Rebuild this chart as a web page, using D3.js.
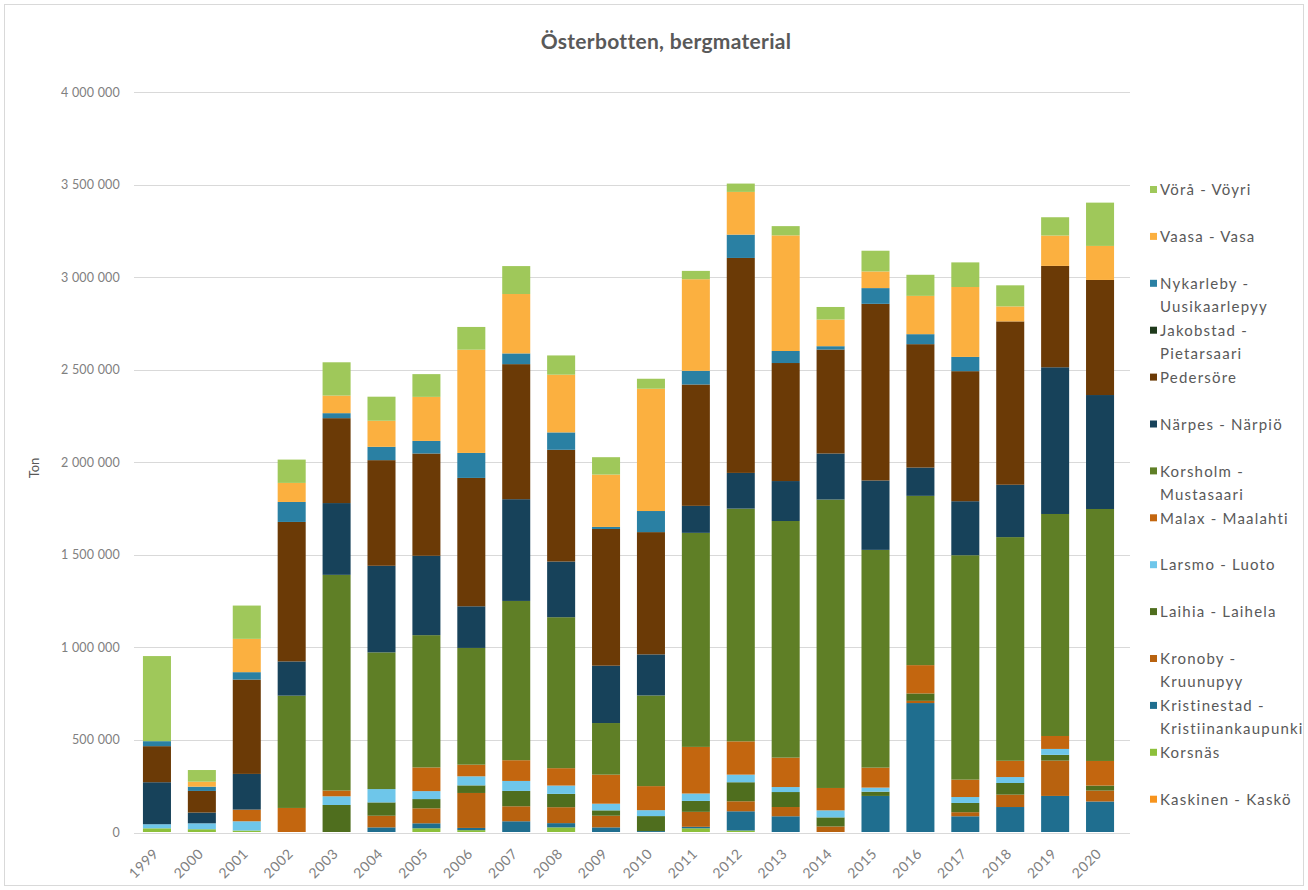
<!DOCTYPE html>
<html><head><meta charset="utf-8">
<script src="https://cdn.jsdelivr.net/npm/d3@7"></script>
<style>
html,body{margin:0;padding:0;background:#fff;}
svg{display:block;font-family:"Lato","Noto Sans",sans-serif;}
</style></head>
<body>
<svg id="chart" width="1308" height="890"></svg>
<script>
const years = ["1999","2000","2001","2002","2003","2004","2005","2006","2007","2008","2009","2010","2011","2012","2013","2014","2015","2016","2017","2018","2019","2020"];

// stack order bottom -> top
const seriesNames = ["Kaskinen - Kaskö","Korsnäs","Kristinestad - Kristiinankaupunki","Kronoby - Kruunupyy","Laihia - Laihela","Larsmo - Luoto","Malax - Maalahti","Korsholm - Mustasaari","Närpes - Närpiö","Pedersöre","Jakobstad - Pietarsaari","Nykarleby - Uusikaarlepyy","Vaasa - Vasa","Vörå - Vöyri"];
const seriesColors = ["#f7941d","#8dc03b","#1f6e8f","#b8620f","#4f6e1e","#6ec6ea","#c3660f","#5f7f26","#17425a","#6b3a06","#1f3a1c","#2a80a3","#fbb040","#9fc85a"];

const kaskinen    = [0,0,0,0,0,0,0,0,0,0,0,0,0,0,0,0,0,0,0,0,0,0];
const korsnas     = [20,15,8,0,0,0,20,10,0,25,0,0,20,8,0,0,0,0,0,0,0,0];
const kristinestad= [0,0,0,0,0,25,27,12,58,23,25,5,8,104,85,0,195,697,85,135,195,165];
const kronoby     = [0,0,0,0,0,63,81,189,81,86,63,0,81,54,50,30,0,12,22,67,191,59];
const laihia      = [0,0,0,0,146,72,50,41,83,72,29,81,59,103,81,49,23,40,50,63,31,27];
const larsmo      = [22,32,50,0,47,72,43,49,54,45,36,32,40,41,27,38,22,0,32,32,32,0];
const malax       = [0,0,63,130,31,0,128,63,112,94,157,130,252,180,159,121,108,153,94,88,70,133];
const korsholm    = [0,0,0,607,1166,739,715,631,861,816,279,490,1157,1258,1279,1559,1177,915,1213,1209,1200,1362];
const narpes      = [227,58,193,185,388,468,429,225,550,301,310,222,146,193,216,249,375,153,292,283,793,616];
const pedersore   = [195,117,510,754,459,571,553,694,730,604,739,661,656,1162,638,562,955,667,703,883,548,622];
const jakobstad   = [0,0,0,0,0,0,0,0,0,0,0,0,0,0,0,0,0,0,0,0,0,0];
const nykarleby   = [27,23,40,108,27,72,68,135,58,94,11,114,74,126,65,18,85,54,77,0,0,0];
const vaasa       = [0,27,180,103,95,141,238,558,321,312,283,661,495,231,625,144,90,207,378,81,164,184];
const vora        = [460,63,180,126,180,130,123,123,151,104,94,54,45,45,50,68,112,114,133,114,99,234];

const yTicks = [0,500000,1000000,1500000,2000000,2500000,3000000,3500000,4000000];
const title = "Österbotten, bergmaterial";
const yTitle = "Ton";

const seriesValues = [kaskinen,korsnas,kristinestad,kronoby,laihia,larsmo,malax,korsholm,narpes,pedersore,jakobstad,nykarleby,vaasa,vora];

const rows = years.map((y,i)=>{
  const r = {year:y};
  seriesNames.forEach((n,k)=>{ r[n] = seriesValues[k][i]*1000; });
  return r;
});

const svg = d3.select("#chart");

// outer border
svg.append("rect").attr("x",4.5).attr("y",4.5).attr("width",1299).attr("height",881)
  .attr("fill","#fff").attr("stroke","#d9d9d9").attr("stroke-width",1);

const x = d3.scaleBand().domain(years).range([134.5,1122.5]).paddingInner(0.376).paddingOuter(0.188);
const y = d3.scaleLinear().domain([0,4000000]).range([832,92]);

// gridlines
svg.append("g").selectAll("line").data(yTicks.filter(t=>t>0)).join("line")
  .attr("x1",134).attr("x2",1130)
  .attr("y1",d=>Math.round(y(d))+0.5).attr("y2",d=>Math.round(y(d))+0.5)
  .attr("stroke","#d9d9d9").attr("stroke-width",1);

const fmt = d=> d3.format(",")(d).replace(/,/g," ");
const yAxis = d3.axisLeft(y).tickValues(yTicks).tickFormat(fmt).tickSize(0).tickPadding(0);
const gy = svg.append("g").attr("transform","translate(120,0)").call(yAxis);
gy.select(".domain").remove();
gy.selectAll("text").attr("fill","#808080").style("font-size","12.5px").style("font-family","Lato, sans-serif").style("letter-spacing","0.2px");

// stacked bars
const stack = d3.stack().keys(seriesNames);
const layers = stack(rows);
svg.append("g").selectAll("g").data(layers).join("g")
  .attr("fill",(d,i)=>seriesColors[i])
  .selectAll("rect").data(d=>d).join("rect")
  .attr("x",d=>x(d.data.year))
  .attr("width",x.bandwidth())
  .attr("y",d=>y(d[1]))
  .attr("height",d=>Math.max(0,y(d[0])-y(d[1])));

// x axis
const xAxis = d3.axisBottom(x).tickSize(0).tickPadding(0);
const gx = svg.append("g").attr("transform","translate(0,833)").call(xAxis);
gx.select(".domain").attr("stroke","#d9d9d9").attr("d","M134,0.5H1130");
gx.selectAll("text")
  .attr("fill","#808080").style("font-size","14px").style("font-family","Lato, sans-serif").style("letter-spacing","0.6px")
  .attr("text-anchor","end")
  .attr("transform","translate(-1,18) rotate(-45)")
  .attr("dy","0.35em");

// title
svg.append("text").attr("x",666).attr("y",49).attr("text-anchor","middle")
  .attr("fill","#595959").style("font-size","21px").style("font-weight","bold")
  .style("font-family","Lato, sans-serif").style("letter-spacing","0.3px").text(title);

// y title
svg.append("text").attr("transform","translate(39,468) rotate(-90)").attr("text-anchor","middle")
  .attr("fill","#595959").style("font-size","13px").style("font-family","Lato, sans-serif").text(yTitle);

// legend (top -> bottom is reverse of stack)
const legendItems = seriesNames.map((n,i)=>({name:n,color:seriesColors[i]})).reverse();
const legendLines = {
  "Nykarleby - Uusikaarlepyy":["Nykarleby -","Uusikaarlepyy"],
  "Jakobstad - Pietarsaari":["Jakobstad -","Pietarsaari"],
  "Korsholm - Mustasaari":["Korsholm -","Mustasaari"],
  "Kronoby - Kruunupyy":["Kronoby -","Kruunupyy"],
  "Kristinestad - Kristiinankaupunki":["Kristinestad -","Kristiinankaupunki"]
};
const lg = svg.append("g");
legendItems.forEach((it,i)=>{
  const yy = 190 + i*46.9;
  lg.append("rect").attr("x",1150).attr("y",yy-4).attr("width",7).attr("height",7).attr("fill",it.color);
  const lines = legendLines[it.name] || [it.name];
  const t = lg.append("text").attr("x",1160).attr("y",yy)
    .attr("fill","#595959").style("font-size","15px").style("font-family","Lato, sans-serif").style("letter-spacing","1.2px");
  lines.forEach((l,j)=>{
    t.append("tspan").attr("x",1160).attr("dy", j===0 ? "0.35em" : "23px").text(l);
  });
});
</script>
</body></html>
